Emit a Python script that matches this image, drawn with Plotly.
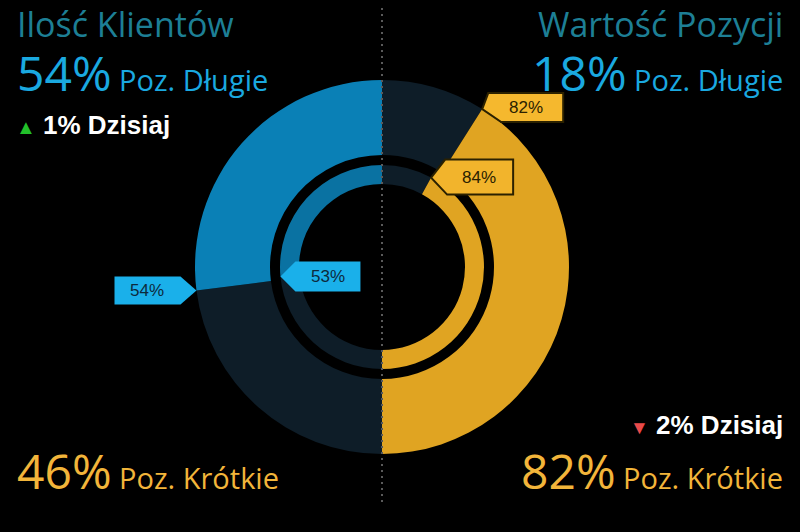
import math
import plotly.graph_objects as go

# ---------------- data ----------------
sections = ["Poz. Długie", "Poz. Krótkie"]
titles = ["Ilość Klientów", "Wartość Pozycji"]
clients_outer = [54, 46]   # % of clients long / short
clients_inner = [53, 47]   # previous reading (inner ring)
value_outer = [18, 82]     # % of position value long / short
value_inner = [16, 84]
daily_change = [1, -2]     # change today (clients, value)

# ---------------- styling ----------------
W, H = 800, 532
CX, CY = 382, 267            # centre in pixels (from top-left)
R_OUT, R_OUT_HOLE = 187, 112
R_IN, R_IN_HOLE = 102, 83

BLUE = "#0a80b6"
BLUE_IN = "#0a72a2"
NAVY = "#0e1d28"
GOLD = "#e0a422"
TEAL = "#1d7f95"
CYAN = "#1aa9e0"
YELLOW = "#f2b53a"


def domain(r):
    return dict(x=[(CX - r) / W, (CX + r) / W],
                y=[1 - (CY + r) / H, 1 - (CY - r) / H])


fig = go.Figure()


def ring(name, clients, value, blue, r, hole):
    # clockwise from 12 o'clock: right half (value long, value short),
    # then left half from the bottom up (clients short, clients long)
    vals = [value[0], value[1], clients[1], clients[0]]
    labels = [f"{titles[1]}: {sections[0]}", f"{titles[1]}: {sections[1]}",
              f"{titles[0]}: {sections[1]}", f"{titles[0]}: {sections[0]}"]
    labels = [f"{name} {l}" for l in labels]
    fig.add_trace(go.Pie(
        name=name, values=vals, labels=labels,
        marker=dict(colors=[NAVY, GOLD, NAVY, blue], line=dict(width=0)),
        hole=hole, domain=domain(r), sort=False, direction="clockwise",
        rotation=0, textinfo="none", hoverinfo="skip", showlegend=False))


ring("out", clients_outer, value_outer, BLUE, R_OUT, R_OUT_HOLE / R_OUT)
ring("in", clients_inner, value_inner, BLUE_IN, R_IN, R_IN_HOLE / R_IN)


def px(x, y):
    return x / W, 1 - y / H


def boundary(frac, r, side):
    th = math.radians(180 * frac)
    x = CX + side * r * math.sin(th)
    y = CY - r * math.cos(th)
    return x, y


shapes = []
annos = []


def callout(tip, pts, fill, border, text, tcolor):
    tx, ty = tip
    coords = [(tx, ty)] + [(tx + dx, ty + dy) for dx, dy in pts]
    path = "M " + " L ".join("%.5f,%.5f" % px(x, y) for x, y in coords) + " Z"
    shapes.append(dict(type="path", xref="paper", yref="paper", path=path,
                       fillcolor=fill,
                       line=dict(color=border, width=2 if border != fill else 0)))
    xs = [tx + dx for dx, dy in pts]
    ys = [ty + dy for dx, dy in pts]
    mx = (max(xs) + min(xs)) / 2
    my = (max(ys) + min(ys)) / 2
    ax, ay = px(mx, my)
    annos.append(dict(x=ax, y=ay, xref="paper", yref="paper", text=text,
                      showarrow=False, xanchor="center", yanchor="middle",
                      font=dict(family="Liberation Sans, Arial", size=17, color=tcolor)))


# left callouts
t = boundary(clients_outer[0] / sum(clients_outer), R_OUT, -1)
callout(t, [(-16, -14), (-82, -14), (-82, 14), (-16, 14)], "#1ab0ea", "#1ab0ea",
        f"{clients_outer[0]}%", "#0d2a3d")
t = boundary(clients_inner[0] / sum(clients_inner), R_IN, -1)
callout(t, [(15, -15), (80, -15), (80, 15), (15, 15)], "#1ab0ea", "#1ab0ea",
        f"{clients_inner[0]}%", "#0d2a3d")
# right callouts
t = boundary(value_outer[0] / sum(value_outer), R_OUT, 1)
callout(t, [(6, -16), (81, -16), (81, 13), (19, 13)], "#f5b82e", "#2b2100",
        f"{value_outer[1]}%", "#2b2100")
t = boundary(value_inner[0] / sum(value_inner), R_IN, 1)
callout(t, [(14, -18), (82, -18), (82, 17), (16, 17)], "#f2b42c", "#2b2100",
        f"{value_inner[1]}%", "#2b2100")

# dotted centre line
shapes.append(dict(type="line", xref="paper", yref="paper",
                   x0=CX / W, x1=CX / W, y0=1 - 502 / H, y1=1 - 5 / H,
                   line=dict(color="#5a5a5a", width=2, dash="2px,4px")))

TF = "Open Sans, Noto Sans, sans-serif"


def txt(x, y, text, anchor, size, color, family=TF):
    annos.append(dict(x=x / W, y=1 - y / H, xref="paper", yref="paper", text=text,
                      showarrow=False, xanchor=anchor, yanchor="middle",
                      font=dict(family=family, size=size, color=color)))


# headers
txt(15, 24, titles[0], "left", 34, TEAL)
txt(785, 24, titles[1], "right", 34, TEAL)


def big(pct, label):
    return f'<span style="font-size:48px">{pct}%</span> {label}'


txt(15, 72, big(clients_outer[0], sections[0]), "left", 29, CYAN)
txt(785, 72, big(value_outer[0], sections[0]), "right", 29, CYAN)
txt(15, 470, big(clients_outer[1], sections[1]), "left", 29, YELLOW)
txt(785, 470, big(value_outer[1], sections[1]), "right", 29, YELLOW)


def change(v):
    tri = '<span style="color:#22c02a;font-size:20px">▲</span>' if v > 0 else \
          '<span style="color:#e84a4a;font-size:19px">▼</span>'
    return f"{tri} <b>{abs(v)}% Dzisiaj</b>"


txt(14, 125, change(daily_change[0]), "left", 26, "white", "Liberation Sans, Arial")
txt(785, 425, change(daily_change[1]), "right", 26, "white", "Liberation Sans, Arial")

fig.update_layout(
    width=W, height=H, margin=dict(l=0, r=0, t=0, b=0),
    paper_bgcolor="black", plot_bgcolor="black",
    shapes=shapes, annotations=annos, showlegend=False,
)

fig.write_html("out.html")
